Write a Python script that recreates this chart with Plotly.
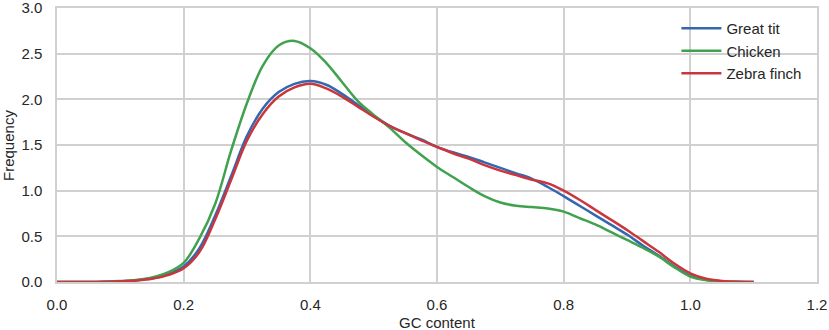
import plotly.graph_objects as go

gc = [round(i * 0.025, 3) for i in range(45)]  # 0.0 .. 1.1 grid of GC content

great_tit = [0.0, 0.0, 0.0, 0.003, 0.008, 0.018, 0.04, 0.085, 0.17, 0.37,
             0.73, 1.16, 1.60, 1.90, 2.08, 2.17, 2.20, 2.16, 2.06, 1.94,
             1.82, 1.71, 1.63, 1.56, 1.48, 1.42, 1.37, 1.31, 1.25, 1.19,
             1.13, 1.04, 0.94, 0.835, 0.73, 0.625, 0.52, 0.40, 0.29, 0.17,
             0.07, 0.025, 0.008, 0.002, 0.0]

chicken = [0.0, 0.0, 0.0, 0.003, 0.01, 0.022, 0.05, 0.105, 0.21, 0.48,
           0.86, 1.44, 1.96, 2.37, 2.59, 2.64, 2.56, 2.40, 2.19, 1.98,
           1.83, 1.69, 1.53, 1.39, 1.26, 1.15, 1.04, 0.94, 0.87, 0.835,
           0.82, 0.805, 0.77, 0.70, 0.63, 0.545, 0.46, 0.375, 0.28, 0.16,
           0.06, 0.02, 0.005, 0.001, 0.0]

zebra_finch = [0.0, 0.0, 0.0, 0.003, 0.007, 0.016, 0.035, 0.075, 0.15, 0.33,
               0.69, 1.12, 1.55, 1.84, 2.03, 2.13, 2.17, 2.12, 2.03, 1.92,
               1.81, 1.71, 1.63, 1.55, 1.48, 1.41, 1.35, 1.28, 1.22, 1.17,
               1.12, 1.08, 1.00, 0.90, 0.79, 0.68, 0.57, 0.45, 0.33, 0.20,
               0.095, 0.035, 0.012, 0.003, 0.0]

series = [("Great tit", great_tit, "#3566b0"),
          ("Chicken", chicken, "#40a24e"),
          ("Zebra finch", zebra_finch, "#c9373d")]

x_ticks = [0.0, 0.2, 0.4, 0.6, 0.8, 1.0, 1.2]
y_ticks = [0.0, 0.5, 1.0, 1.5, 2.0, 2.5, 3.0]

fig = go.Figure()
for name, vals, color in series:
    fig.add_trace(go.Scatter(x=gc, y=vals, mode="lines", name=name,
                             line=dict(color=color, width=2.5, shape="spline", smoothing=1.0)))

font = dict(family="Liberation Sans, Arial, sans-serif", size=15, color="#262626")

fig.update_layout(
    width=829, height=330,
    margin=dict(l=57, r=12, t=8, b=48, autoexpand=False),
    paper_bgcolor="white", plot_bgcolor="white",
    font=font,
    showlegend=True,
    legend=dict(x=0.815, y=0.985, xanchor="left", yanchor="top",
                bgcolor="rgba(0,0,0,0)", font=dict(size=15, color="#262626"),
                tracegroupgap=0, itemwidth=40),
    xaxis=dict(range=[0, 1.2], tickvals=x_ticks, ticktext=[f"{v:.1f}" for v in x_ticks],
               showgrid=True, gridcolor="#d0d0d0", gridwidth=1.5,
               showline=True, linecolor="#d0d0d0", linewidth=1.5, mirror=True,
               zeroline=False, ticks="", ticklabelstandoff=8, automargin=False,
               ticklabeloverflow="allow"),
    yaxis=dict(range=[0, 3.0], tickvals=y_ticks, ticktext=[f"{v:.1f}" for v in y_ticks],
               showgrid=True, gridcolor="#d0d0d0", gridwidth=1.5,
               showline=True, linecolor="#d0d0d0", linewidth=1.5, mirror=True,
               zeroline=False, ticks="", ticklabelstandoff=10, automargin=False,
               ticklabeloverflow="allow"),
    annotations=[
        dict(text="GC content", xref="paper", yref="paper", x=0.5, y=-0.146,
             xanchor="center", yanchor="middle", showarrow=False,
             font=dict(size=15, color="#262626")),
        dict(text="Frequency", xref="paper", yref="paper", x=-0.0645, y=0.5,
             xanchor="center", yanchor="middle", textangle=-90, showarrow=False,
             font=dict(size=15, color="#262626")),
    ],
)

fig.write_html("out.html", config={"displayModeBar": False},
               post_script="document.body.style.margin='0';document.body.style.padding='0';")
